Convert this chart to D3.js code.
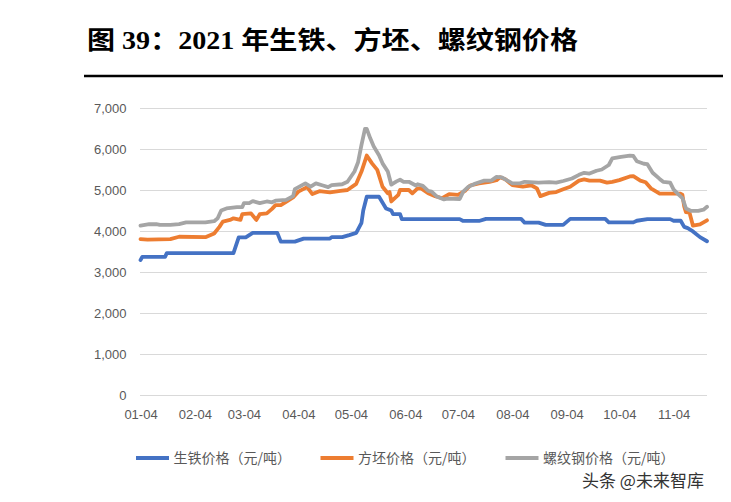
<!DOCTYPE html>
<html><head><meta charset="utf-8">
<script src="https://cdn.jsdelivr.net/npm/d3@7/dist/d3.min.js"></script>
<style>
html,body{margin:0;padding:0;background:#fff;}
svg{display:block;}
</style></head>
<body>
<script>
// ---- data ----
const titleText = "图 39：2021 年生铁、方坯、螺纹钢价格";
const seriesNames = ["生铁价格（元/吨）", "方坯价格（元/吨）", "螺纹钢价格（元/吨）"];
const seriesColors = ["#4472C4", "#ED7D31", "#A5A5A5"];
const xTickDates = ["2021-01-04","2021-02-04","2021-03-04","2021-04-04","2021-05-04","2021-06-04","2021-07-04","2021-08-04","2021-09-04","2021-10-04","2021-11-04"];
const xTickLabels = ["01-04","02-04","03-04","04-04","05-04","06-04","07-04","08-04","09-04","10-04","11-04"];
const yTicks = [0,1000,2000,3000,4000,5000,6000,7000];

const pigIronDates = ["01-04","01-05","01-18","01-19","02-26","03-01","03-05","03-09","03-23","03-25","04-02","04-07","04-22","04-23","04-29","05-03","05-07","05-10","05-11","05-13","05-20","05-24","05-27","05-28","06-01","06-02","07-05","07-07","07-16","07-20","08-09","08-11","08-19","08-23","09-02","09-06","09-26","09-28","10-12","10-14","10-20","11-02","11-04","11-08","11-10","11-12","11-15","11-19","11-23"];
const pigIronValues = [3290,3370,3370,3460,3460,3845,3845,3955,3955,3740,3740,3815,3815,3850,3850,3900,3955,4200,4500,4835,4835,4550,4500,4410,4410,4290,4290,4245,4245,4295,4295,4205,4205,4150,4150,4295,4295,4210,4210,4250,4290,4290,4250,4250,4100,4070,3990,3850,3750];

const billetDates = ["01-04","01-08","01-21","01-26","02-10","02-15","02-18","02-20","02-24","02-26","03-02","03-03","03-08","03-11","03-13","03-17","03-20","03-22","03-25","03-28","04-01","04-04","04-09","04-12","04-16","04-22","04-28","05-02","05-07","05-10","05-13","05-16","05-19","05-22","05-25","05-26","05-27","05-31","06-01","06-06","06-08","06-11","06-13","06-17","06-21","06-25","06-29","07-04","07-08","07-11","07-16","07-22","07-26","07-28","07-31","08-04","08-10","08-15","08-18","08-20","08-25","08-29","09-02","09-06","09-11","09-14","09-17","09-23","09-27","09-30","10-04","10-10","10-12","10-16","10-19","10-22","10-27","10-31","11-08","11-09","11-10","11-11","11-13","11-15","11-19","11-23"];
const billetValues = [3800,3790,3800,3860,3850,3940,4100,4230,4270,4310,4270,4410,4430,4270,4410,4430,4540,4630,4630,4710,4820,4960,5070,4900,4970,4940,4980,5000,5150,5450,5840,5650,5490,5080,4920,4950,4720,4880,5000,5000,4920,5040,5040,4920,4850,4800,4900,4880,4980,5110,5160,5200,5240,5310,5260,5120,5080,5110,5040,4850,4930,4950,5020,5080,5230,5260,5230,5230,5180,5200,5240,5330,5340,5230,5190,5040,4910,4910,4910,4880,4600,4460,4450,4130,4160,4260];

const rebarDates = ["01-04","01-09","01-13","01-15","01-21","01-26","01-30","02-10","02-15","02-17","02-19","02-22","02-28","03-03","03-04","03-07","03-09","03-13","03-17","03-20","03-22","03-28","04-01","04-02","04-08","04-11","04-14","04-18","04-21","04-23","04-29","05-02","05-06","05-08","05-10","05-12","05-13","05-15","05-17","05-20","05-22","05-25","05-27","05-30","06-01","06-03","06-06","06-10","06-11","06-14","06-17","06-19","06-22","06-26","06-28","07-05","07-07","07-10","07-14","07-19","07-23","07-26","07-29","07-31","08-04","08-08","08-11","08-19","08-25","08-29","09-02","09-07","09-11","09-14","09-17","09-21","09-24","09-28","09-30","10-05","10-10","10-12","10-14","10-18","10-20","10-23","10-27","10-29","11-02","11-04","11-07","11-09","11-11","11-14","11-18","11-21","11-23"];
const rebarValues = [4130,4165,4170,4150,4150,4170,4210,4210,4240,4310,4500,4550,4580,4580,4680,4680,4730,4680,4720,4700,4740,4760,4850,5020,5160,5080,5160,5110,5070,5120,5140,5200,5450,5670,6100,6490,6490,6260,6060,5850,5650,5450,5130,5210,5250,5200,5200,5110,5140,5100,4980,4960,4840,4770,4790,4780,4960,5080,5160,5230,5230,5320,5310,5260,5160,5160,5200,5180,5190,5180,5220,5280,5370,5420,5400,5470,5500,5610,5770,5810,5840,5830,5700,5640,5630,5420,5270,5200,5180,5010,4880,4800,4550,4490,4490,4520,4590];

const watermark = "头条 @未来智库";

// ---- chart ----
const W = 731, H = 502;
const svg = d3.select("body").append("svg").attr("width", W).attr("height", H);
const parse = d3.utcParse("%Y-%m-%d");
const toDate = s => parse("2021-" + s);

const x = d3.scaleUtc().domain([parse("2021-01-04"), parse("2021-11-23")]).range([140.5, 707]);
const y = d3.scaleLinear().domain([0, 7000]).range([395, 108]);

// title
svg.append("text").attr("x", 87).attr("y", 49)
  .attr("font-family", "'Liberation Serif','Noto Sans CJK SC',serif")
  .attr("font-weight", "bold").attr("font-size", 25).attr("fill", "#000")
  .attr("textLength", 491).attr("lengthAdjust", "spacingAndGlyphs")
  .text(titleText);
svg.append("line").attr("x1", 84).attr("x2", 723).attr("y1", 76).attr("y2", 76)
  .attr("stroke", "#000").attr("stroke-width", 2.5);

// gridlines + y axis
const yAxis = d3.axisLeft(y).tickValues(yTicks).tickFormat(d3.format(",")).tickSize(-(707 - 140)).tickPadding(13);
const gy = svg.append("g").attr("transform", "translate(140,0)").call(yAxis);
gy.select(".domain").remove();
gy.selectAll(".tick line").attr("stroke", "#D9D9D9").attr("stroke-width", 1).attr("x2", 707 - 140).attr("x1", 0);
gy.selectAll(".tick text").attr("fill", "#595959").attr("font-size", 13)
  .attr("font-family", "'Liberation Sans',Arial,sans-serif").attr("x", -13.5);

// x axis
const xAxis = d3.axisBottom(x).tickValues(xTickDates.map(d => parse(d)))
  .tickFormat((d, i) => xTickLabels[i]).tickSize(0).tickPadding(15);
const gx = svg.append("g").attr("transform", "translate(0,395)").call(xAxis);
gx.select(".domain").remove();
gx.selectAll(".tick text").attr("fill", "#595959").attr("font-size", 13)
  .attr("font-family", "'Liberation Sans',Arial,sans-serif");

// lines
const allSeries = [
  {dates: pigIronDates, values: pigIronValues},
  {dates: billetDates, values: billetValues},
  {dates: rebarDates, values: rebarValues}
];
const line = d3.line().x(d => x(d[0])).y(d => y(d[1]));
allSeries.forEach((s, i) => {
  const pts = s.dates.map((d, j) => [toDate(d), s.values[j]]);
  svg.append("path").datum(pts).attr("d", line)
    .attr("fill", "none").attr("stroke", seriesColors[i]).attr("stroke-width", 3.8)
    .attr("stroke-linejoin", "round").attr("stroke-linecap", "round");
});

// legend
const legendX = [136, 320.5, 505.5];
seriesNames.forEach((name, i) => {
  const g = svg.append("g").attr("transform", `translate(${legendX[i]},458)`);
  g.append("line").attr("x1", 0).attr("x2", 33).attr("y1", 0).attr("y2", 0)
    .attr("stroke", seriesColors[i]).attr("stroke-width", 4);
  g.append("text").attr("x", 37.5).attr("y", 0).attr("dy", "0.36em")
    .attr("font-family", "'Noto Sans CJK SC',sans-serif").attr("font-size", 14)
    .attr("fill", "#595959").text(name);
});

// watermark
svg.append("text").attr("x", 582).attr("y", 487)
  .attr("font-family", "'Noto Sans CJK SC',sans-serif").attr("font-size", 17)
  .attr("fill", "#333").attr("stroke", "#fff").attr("stroke-width", 0.6).attr("paint-order", "stroke")
  .text(watermark);
</script>
</body></html>
